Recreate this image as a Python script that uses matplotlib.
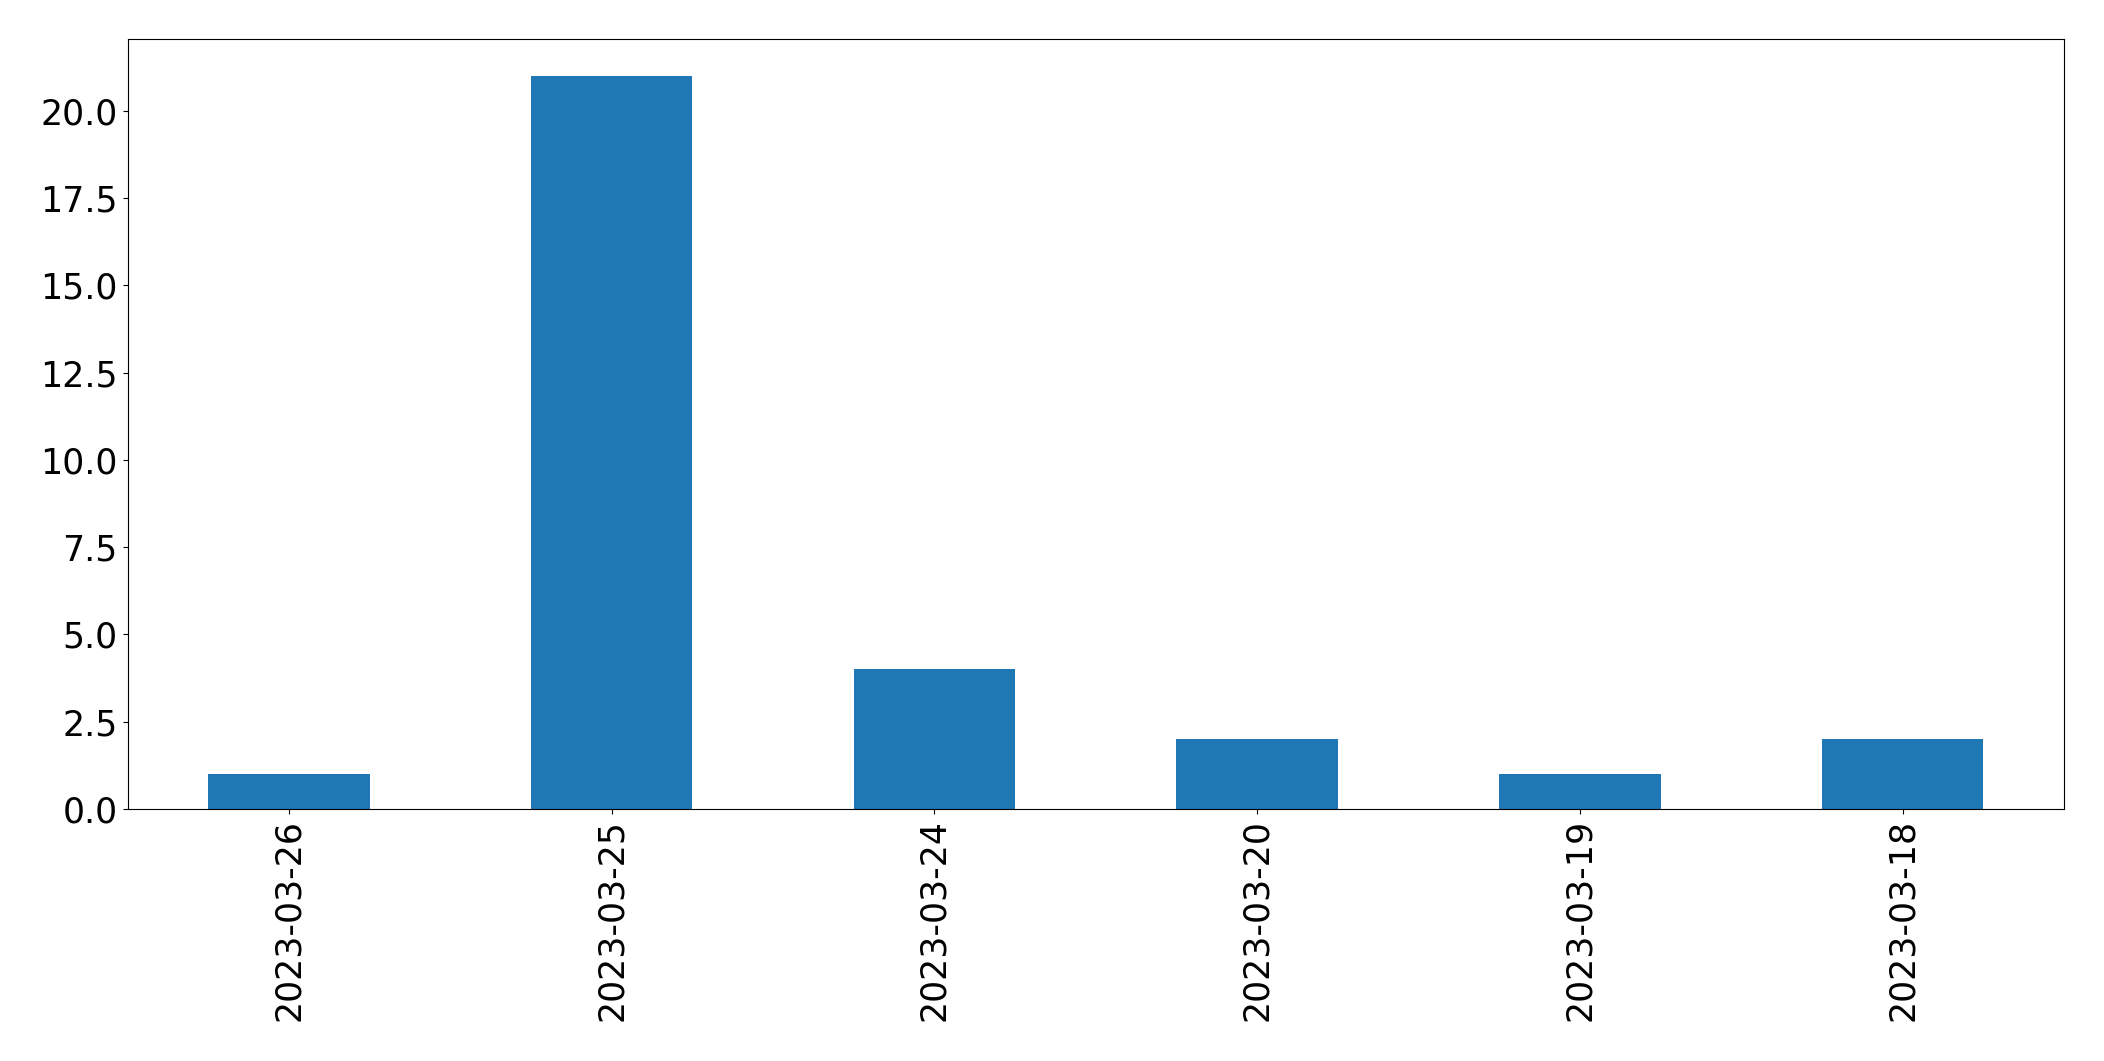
import matplotlib
matplotlib.use("Agg")
import matplotlib.pyplot as plt

dates = ["2023-03-26", "2023-03-25", "2023-03-24", "2023-03-20", "2023-03-19", "2023-03-18"]
counts = [1, 21, 4, 2, 1, 2]

fig = plt.figure(figsize=(21.04, 10.61), dpi=100)
ax = fig.add_axes([0.0606, 0.2375, 0.9204, 0.7255])
x = list(range(len(dates)))
ax.bar(x, counts, width=0.5, color="#1f77b4")
ax.set_xlim(-0.5, len(dates) - 0.5)
ax.set_ylim(0, max(counts) * 1.05)
ax.set_xticks(x)
ax.set_xticklabels(dates, rotation=90)
ax.set_yticks([0, 2.5, 5, 7.5, 10, 12.5, 15, 17.5, 20])
ax.set_yticklabels(["0.0", "2.5", "5.0", "7.5", "10.0", "12.5", "15.0", "17.5", "20.0"])
ax.tick_params(labelsize=25)
fig.savefig("out.png", dpi=100)
